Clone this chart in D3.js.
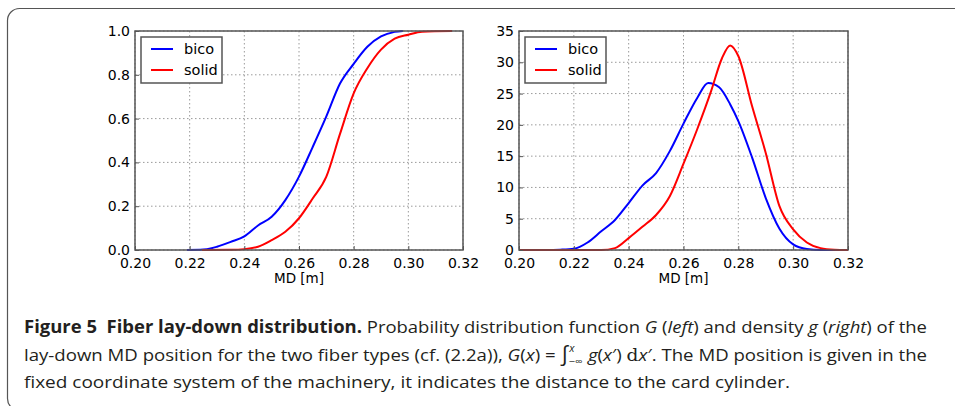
<!DOCTYPE html>
<html>
<head>
<meta charset="utf-8">
<script src="https://cdn.jsdelivr.net/npm/d3@7"></script>
<style>
  body { margin: 0; background: #fff; }
  svg { display: block; }
</style>
</head>
<body>
<svg id="fig" width="955" height="406"></svg>
<script>
// Data
var xTicks = [0.2, 0.22, 0.24, 0.26, 0.28, 0.3, 0.32]
var cdfTicks = [0, 0.2, 0.4, 0.6, 0.8, 1.0]
var densTicks = [0, 5, 10, 15, 20, 25, 30, 35]
var seriesNames = ['bico', 'solid']
var seriesColors = ['#0000ff', '#ff0000']

// Distribution function G (left)
var cdfBicoX = [0.219, 0.225, 0.228, 0.23, 0.235, 0.24, 0.245, 0.25, 0.255, 0.26, 0.265, 0.27, 0.275, 0.28, 0.285, 0.29, 0.295, 0.298]
var cdfBicoY = [0, 0.002, 0.008, 0.015, 0.037, 0.062, 0.112, 0.152, 0.228, 0.335, 0.47, 0.61, 0.76, 0.85, 0.928, 0.975, 0.996, 1.0]
var cdfSolidX = [0.2245, 0.235, 0.24, 0.245, 0.25, 0.255, 0.26, 0.265, 0.27, 0.275, 0.28, 0.285, 0.29, 0.295, 0.3, 0.305, 0.316]
var cdfSolidY = [0, 0.001, 0.004, 0.015, 0.045, 0.083, 0.145, 0.235, 0.335, 0.53, 0.715, 0.83, 0.915, 0.965, 0.983, 0.997, 1.0]

// Density g (right)
var densBicoX = [0.2, 0.21, 0.215, 0.22, 0.225, 0.23, 0.235, 0.24, 0.245, 0.25, 0.255, 0.26, 0.265, 0.269, 0.273, 0.277, 0.28, 0.285, 0.29, 0.295, 0.3, 0.305, 0.31, 0.32]
var densBicoY = [0, 0, 0.05, 0.2, 1.2, 3.0, 4.8, 7.5, 10.3, 12.3, 15.8, 20.2, 24.3, 26.7, 26.0, 23.3, 20.6, 14.8, 8.3, 3.4, 0.9, 0.15, 0, 0]
var densSolidX = [0.2, 0.23, 0.235, 0.24, 0.245, 0.25, 0.255, 0.26, 0.265, 0.27, 0.274, 0.277, 0.28, 0.285, 0.29, 0.295, 0.3, 0.305, 0.31, 0.315, 0.32]
var densSolidY = [0, 0, 0.3, 1.9, 3.7, 5.6, 8.6, 13.8, 19.3, 25.3, 30.6, 32.7, 31.0, 23.0, 15.5, 7.0, 3.3, 1.2, 0.3, 0.05, 0]

function zip(xs, ys) {
  return xs.map((x, i) => ({ x: x, y: ys[i] }))
}

var svg = d3.select('#fig')

// outer frame of the figure box
svg
  .append('rect')
  .attr('x', 7.5)
  .attr('y', 8.5)
  .attr('width', 1000)
  .attr('height', 402)
  .attr('rx', 12)
  .attr('fill', 'none')
  .attr('stroke', '#555')
  .attr('stroke-width', 1.2)

// one panel: left/right/top/bottom in page pixels
function drawPanel(box, yDomain, yTicks, yFormat, series) {
  var xScale = d3.scaleLinear().domain([0.2, 0.32]).range([box.left, box.right])
  var yScale = d3.scaleLinear().domain(yDomain).range([box.bottom, box.top])

  var g = svg.append('g')

  // dotted grid
  g.selectAll('.vgrid')
    .data(xTicks)
    .enter()
    .append('line')
    .attr('x1', d => xScale(d))
    .attr('x2', d => xScale(d))
    .attr('y1', box.top)
    .attr('y2', box.bottom)
    .attr('stroke', '#9a9a9a')
    .attr('stroke-dasharray', '1.5,2.5')

  g.selectAll('.hgrid')
    .data(yTicks)
    .enter()
    .append('line')
    .attr('x1', box.left)
    .attr('x2', box.right)
    .attr('y1', d => yScale(d))
    .attr('y2', d => yScale(d))
    .attr('stroke', '#9a9a9a')
    .attr('stroke-dasharray', '1.5,2.5')

  // curves
  var line = d3
    .line()
    .x(d => xScale(d.x))
    .y(d => yScale(d.y))
    .curve(d3.curveMonotoneX)

  series.forEach(function(s, i) {
    g.append('path')
      .datum(s)
      .attr('d', line)
      .attr('fill', 'none')
      .attr('stroke', seriesColors[i])
      .attr('stroke-width', 2)
  })

  // axes, ticks pointing inward like matplotlib classic
  var xAxis = d3.axisBottom(xScale).tickValues(xTicks).tickFormat(d3.format('.2f')).tickSizeInner(-4).tickSizeOuter(0).tickPadding(8)
  g.append('g')
    .attr('class', 'axis')
    .attr('transform', 'translate(0,' + box.bottom + ')')
    .call(xAxis)

  var yAxis = d3.axisLeft(yScale).tickValues(yTicks).tickFormat(yFormat).tickSizeInner(-4).tickSizeOuter(0).tickPadding(5)
  g.append('g')
    .attr('class', 'axis')
    .attr('transform', 'translate(' + box.left + ',0)')
    .call(yAxis)

  g.selectAll('.axis .domain').remove()
  g.selectAll('.axis text')
    .attr('font-family', 'DejaVu Sans')
    .attr('font-size', 14)
    .attr('fill', '#000')
  g.selectAll('.axis line').attr('stroke', '#555')

  // frame
  g.append('rect')
    .attr('x', box.left)
    .attr('y', box.top)
    .attr('width', box.right - box.left)
    .attr('height', box.bottom - box.top)
    .attr('fill', 'none')
    .attr('stroke', '#555')
    .attr('stroke-width', 1.5)

  // x label
  g.append('text')
    .text('MD [m]')
    .attr('x', (box.left + box.right) / 2)
    .attr('y', 283)
    .attr('text-anchor', 'middle')
    .attr('font-family', 'DejaVu Sans')
    .attr('font-size', 13.5)

  // legend
  var lg = g.append('g').attr('transform', 'translate(' + (box.left + 6) + ',37)')
  lg.append('rect')
    .attr('width', 81)
    .attr('height', 46)
    .attr('fill', '#fff')
    .attr('stroke', '#555')
    .attr('stroke-width', 1.5)

  seriesNames.forEach(function(name, i) {
    var y = 12 + i * 21
    lg.append('line')
      .attr('x1', 10)
      .attr('x2', 32)
      .attr('y1', y)
      .attr('y2', y)
      .attr('stroke', seriesColors[i])
      .attr('stroke-width', 2)
    lg.append('text')
      .text(name)
      .attr('x', 43)
      .attr('y', y + 5)
      .attr('font-family', 'DejaVu Sans')
      .attr('font-size', 14.5)
  })
}

drawPanel({ left: 135, right: 463, top: 31, bottom: 250 }, [0, 1], cdfTicks, d3.format('.1f'),
  [zip(cdfBicoX, cdfBicoY), zip(cdfSolidX, cdfSolidY)])

drawPanel({ left: 519, right: 848, top: 31, bottom: 250 }, [0, 35], densTicks, d3.format('d'),
  [zip(densBicoX, densBicoY), zip(densSolidX, densSolidY)])

// Caption
var cap = svg
  .append('g')
  .attr('font-family', 'Open Sans')
  .attr('font-size', 17)
  .attr('fill', '#231f20')

var line1 = cap.append('text').attr('x', 24).attr('y', 333)
  .attr('textLength', 903).attr('lengthAdjust', 'spacingAndGlyphs')
line1.append('tspan').attr('font-weight', 'bold').text('Figure 5\u00a0\u00a0Fiber lay-down distribution.')
line1.append('tspan').text(' Probability distribution function ')
line1.append('tspan').attr('font-style', 'italic').text('G')
line1.append('tspan').text(' (')
line1.append('tspan').attr('font-style', 'italic').text('left')
line1.append('tspan').text(') and density ')
line1.append('tspan').attr('font-style', 'italic').text('g')
line1.append('tspan').text(' (')
line1.append('tspan').attr('font-style', 'italic').text('right')
line1.append('tspan').text(') of the')

var line2 = cap.append('text').attr('x', 24).attr('y', 361)
  .attr('textLength', 903).attr('lengthAdjust', 'spacingAndGlyphs')
line2.append('tspan').text('lay-down MD position for the two fiber types (cf. (2.2a)), ')
line2.append('tspan').attr('font-style', 'italic').text('G')
line2.append('tspan').text('(')
line2.append('tspan').attr('font-style', 'italic').text('x')
line2.append('tspan').text(') = ')
line2.append('tspan').attr('font-size', 21).text('\u222b')
line2.append('tspan').attr('font-size', 10).attr('font-style', 'italic').attr('dy', -9).text('x')
line2.append('tspan').attr('font-size', 10).attr('dx', -5).attr('dy', 13).text('\u2212\u221e')
line2.append('tspan').attr('font-style', 'italic').attr('dy', -4).text(' g')
line2.append('tspan').text('(')
line2.append('tspan').attr('font-style', 'italic').text('x')
line2.append('tspan').text('\u2032) ')
line2.append('tspan').attr('font-family', 'DejaVu Serif').text('d')
line2.append('tspan').attr('font-style', 'italic').text('x')
line2.append('tspan').text('\u2032. The MD position is given in the')

cap.append('text').attr('x', 24).attr('y', 388)
  .attr('textLength', 766).attr('lengthAdjust', 'spacingAndGlyphs')
  .text('fixed coordinate system of the machinery, it indicates the distance to the card cylinder.')
</script>
</body>
</html>
